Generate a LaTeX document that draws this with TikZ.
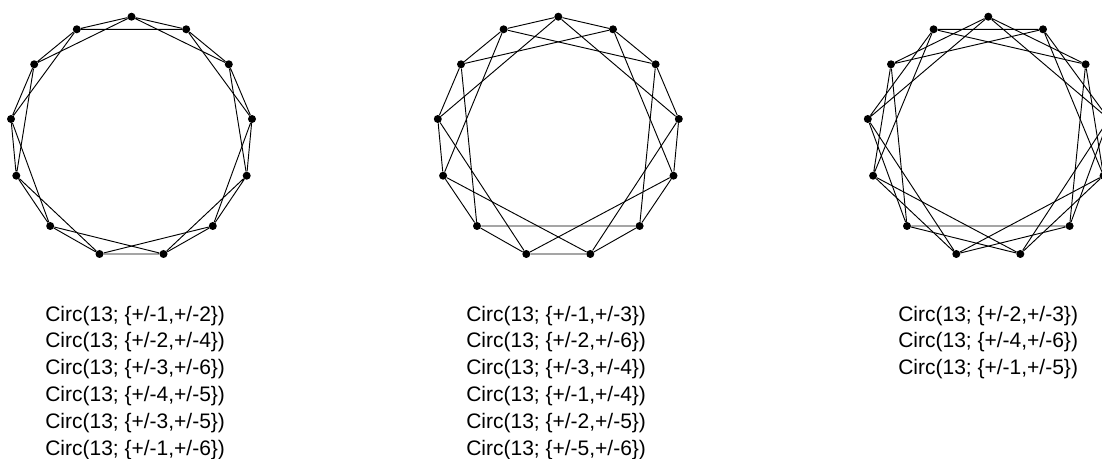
\documentclass[tikz,border=0pt]{standalone}
\usepackage{fontspec}
\setmainfont{Liberation Sans}
\tikzset{
  vertex/.style={circle, fill=black, inner sep=0pt, minimum size=6pt},
  edge/.style={line width=0.7pt},
  circlabel/.style={anchor=base west, inner sep=0pt, font=\fontsize{15.75}{19}\selectfont}
}
\begin{document}
\begin{tikzpicture}[x=0.75pt, y=-0.75pt]
  \useasboundingbox (0,0) rectangle (1102,459);
  % 13 vertices per graph, same layout, shifted to each centre
  \foreach \g/\cx in {a/131.5, b/558.3, c/988.3}
    \foreach \i/\dx/\vy in {0/0/16.7, 1/54.7/29.3, 2/97.3/64.3, 3/120.5/119,
                            4/115.2/175.7, 5/81.3/226, 6/32/254, 7/-32/254,
                            8/-81.3/226, 9/-115.2/175.7, 10/-120.5/119,
                            11/-97.3/64.3, 12/-54.7/29.3}
      \node[vertex] (\g\i) at ({\cx+\dx}, \vy) {};

  % edges: i -- i+s and i -- i+t (mod 13)
  \foreach \g/\s/\t in {a/1/2, b/1/3, c/2/3}
    \foreach \i in {0,...,12} {
      \pgfmathtruncatemacro\ja{mod(\i+\s,13)}
      \pgfmathtruncatemacro\jb{mod(\i+\t,13)}
      \draw[edge] (\g\i) -- (\g\ja) (\g\i) -- (\g\jb);
    }

  % isomorphic labels under each graph
  \foreach \p/\q [count=\k] in {1/2, 2/4, 3/6, 4/5, 3/5, 1/6}
    \node[circlabel] (la\k) at (45, {321+26.8*(\k-1)}) {Circ(13; \{+/-\p,+/-\q\})};
  \foreach \p/\q [count=\k] in {1/3, 2/6, 3/4, 1/4, 2/5, 5/6}
    \node[circlabel] (lb\k) at (466, {321+26.8*(\k-1)}) {Circ(13; \{+/-\p,+/-\q\})};
  \foreach \p/\q [count=\k] in {2/3, 4/6, 1/5}
    \node[circlabel] (lc\k) at (898, {321+26.8*(\k-1)}) {Circ(13; \{+/-\p,+/-\q\})};
\end{tikzpicture}
\end{document}
